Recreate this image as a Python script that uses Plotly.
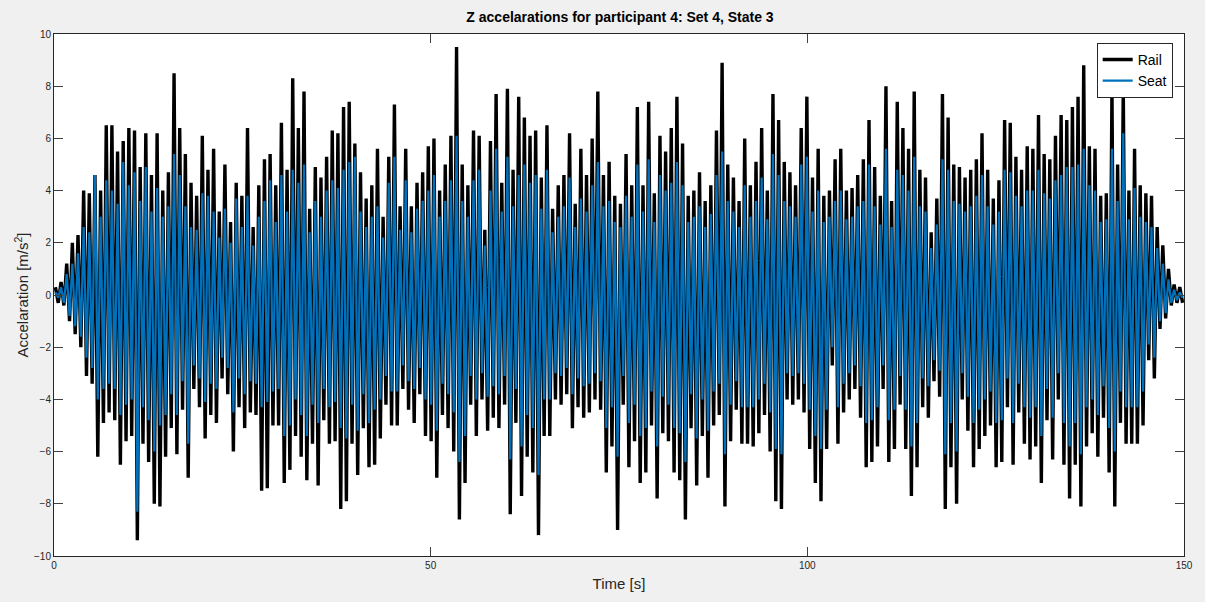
import numpy as np
import plotly.graph_objects as go

# Z-axis acceleration envelopes (m/s^2), one positive and one negative extreme
# per 0.75 s oscillation, 0-150 s
rail_peaks = [
    0.3, 0.5, 1.2, 2.0, 2.3, 4.0, 3.9, 4.6, 4.0, 6.5,
    6.5, 5.5, 5.9, 6.4, 6.3, 4.9, 6.2, 4.6, 6.2, 4.0,
    4.7, 8.5, 6.4, 5.4, 4.3, 3.8, 6.1, 4.8, 5.6, 3.2,
    5.0, 2.8, 4.3, 3.8, 6.4, 2.6, 4.2, 5.2, 5.4, 4.2,
    6.6, 4.8, 8.3, 6.4, 7.8, 3.3, 4.9, 4.5, 5.3, 6.3,
    6.2, 7.2, 7.4, 5.8, 4.7, 3.7, 4.2, 5.6, 3.0, 5.3,
    7.3, 3.4, 5.6, 3.4, 4.3, 4.7, 5.7, 6.0, 4.0, 5.0,
    6.1, 9.5, 5.0, 4.2, 6.3, 6.1, 2.5, 5.9, 7.7, 4.3,
    7.9, 4.8, 7.6, 6.8, 6.1, 6.3, 4.5, 6.5, 3.3, 4.2,
    4.6, 6.2, 3.5, 5.6, 4.6, 6.0, 7.8, 4.6, 5.1, 3.8,
    3.5, 5.4, 4.2, 7.2, 4.2, 7.4, 3.9, 6.1, 5.5, 6.4,
    7.6, 5.8, 3.8, 4.0, 4.7, 3.6, 4.2, 6.3, 8.9, 5.0,
    4.5, 3.6, 6.0, 4.2, 5.1, 6.4, 4.0, 7.7, 6.7, 5.1,
    4.7, 4.2, 6.4, 7.6, 4.5, 5.6, 3.8, 4.0, 5.2, 5.6,
    4.0, 4.1, 4.6, 5.2, 6.7, 4.9, 3.8, 8.0, 3.6, 7.4,
    6.4, 5.6, 7.8, 4.8, 4.5, 2.4, 3.7, 7.7, 6.8, 5.0,
    4.9, 4.5, 4.8, 5.2, 6.2, 4.8, 3.7, 4.4, 6.7, 6.6,
    5.3, 4.8, 5.7, 5.6, 6.9, 5.4, 5.2, 6.1, 6.9, 6.7,
    7.2, 7.6, 8.8, 5.7, 5.6, 3.8, 3.9, 7.9, 5.0, 7.9,
    4.0, 5.6, 4.2, 3.9, 3.8, 2.6, 1.9, 1.0, 0.4, 0.3,
]
rail_troughs = [
    -0.3, -0.4, -1.0, -1.5, -2.0, -3.1, -3.4, -6.2, -4.9, -4.5,
    -4.8, -6.5, -5.6, -5.4, -9.4, -5.7, -6.4, -8.0, -8.1, -6.2,
    -5.1, -6.1, -4.4, -7.0, -3.6, -4.3, -5.5, -4.6, -4.9, -3.2,
    -3.8, -6.0, -4.3, -5.1, -4.5, -4.6, -7.5, -7.4, -5.0, -5.0,
    -7.2, -6.7, -5.4, -6.2, -7.1, -5.7, -7.3, -4.8, -5.7, -5.6,
    -8.2, -7.9, -5.7, -6.9, -5.1, -6.6, -6.5, -5.5, -4.2, -5.0,
    -5.0, -3.6, -4.4, -4.9, -3.8, -5.4, -5.6, -7.0, -4.6, -5.1,
    -6.0, -8.6, -7.2, -4.2, -5.4, -4.0, -5.2, -4.7, -5.1, -4.2,
    -8.4, -4.9, -7.7, -6.2, -6.8, -9.2, -5.4, -5.4, -4.0, -4.2,
    -3.8, -5.1, -4.3, -4.7, -4.5, -4.0, -4.4, -6.8, -5.8, -9.0,
    -4.2, -6.6, -5.6, -7.2, -6.8, -5.0, -7.8, -5.3, -5.6, -6.8,
    -7.1, -8.6, -5.1, -7.3, -5.4, -7.0, -5.0, -4.6, -8.1, -5.6,
    -4.4, -5.7, -5.7, -5.8, -5.3, -4.6, -6.0, -7.9, -8.2, -4.0,
    -4.2, -4.0, -4.5, -5.9, -7.2, -7.9, -5.9, -2.7, -5.7, -4.5,
    -4.0, -3.6, -4.7, -6.6, -6.4, -5.8, -3.6, -6.4, -5.9, -4.2,
    -5.9, -7.7, -6.6, -4.3, -4.7, -3.3, -3.9, -8.2, -6.6, -8.0,
    -4.0, -5.2, -6.6, -5.9, -5.4, -5.0, -6.6, -6.4, -4.3, -6.5,
    -4.5, -5.7, -6.3, -5.8, -7.2, -4.8, -6.3, -4.0, -6.5, -7.8,
    -6.5, -8.1, -5.8, -5.3, -6.2, -4.7, -6.8, -8.1, -4.9, -5.7,
    -5.7, -5.7, -5.0, -2.5, -3.2, -1.3, -0.9, -0.4, -0.3, -0.3,
]
seat_peaks = [
    0.1, 0.3, 0.8, 1.2, 1.6, 2.6, 2.4, 4.6, 3.0, 4.4,
    4.0, 3.5, 5.1, 4.2, 4.7, 3.6, 4.9, 3.2, 4.1, 3.0,
    3.4, 5.4, 4.6, 3.4, 2.6, 2.5, 3.9, 3.8, 3.2, 2.2,
    3.3, 2.0, 3.7, 2.6, 3.8, 1.9, 3.0, 3.6, 4.4, 2.8,
    4.6, 3.2, 4.8, 4.3, 5.0, 2.4, 3.6, 3.0, 4.0, 4.4,
    4.1, 4.8, 5.1, 5.3, 3.2, 2.6, 3.0, 3.4, 2.2, 4.3,
    5.3, 2.5, 4.4, 2.4, 3.3, 3.6, 4.0, 4.6, 3.0, 3.6,
    4.4, 6.1, 3.6, 3.0, 4.4, 4.8, 1.9, 4.0, 5.6, 3.2,
    5.3, 3.4, 4.6, 5.0, 4.3, 4.6, 3.3, 4.8, 2.4, 3.0,
    3.4, 4.5, 2.6, 3.7, 3.2, 4.2, 5.1, 3.4, 3.6, 2.8,
    2.6, 3.8, 3.0, 5.0, 3.2, 5.2, 2.8, 4.6, 4.0, 4.3,
    5.1, 4.2, 2.8, 3.0, 3.4, 2.6, 3.1, 4.6, 5.5, 3.6,
    3.2, 2.6, 4.2, 3.0, 3.6, 4.5, 2.9, 5.4, 4.6, 3.6,
    3.4, 3.0, 5.0, 5.3, 3.2, 4.0, 2.8, 3.0, 3.6, 4.0,
    2.9, 3.0, 3.4, 3.6, 5.0, 3.4, 2.7, 5.6, 2.6, 4.8,
    4.6, 4.0, 5.3, 3.4, 3.2, 1.8, 2.7, 5.2, 4.8, 3.6,
    3.5, 3.2, 3.4, 3.8, 4.6, 3.4, 2.7, 3.2, 4.8, 4.7,
    3.8, 3.4, 4.0, 4.0, 4.8, 3.9, 3.7, 4.4, 4.6, 4.9,
    4.9, 5.0, 5.6, 4.2, 4.0, 2.8, 2.9, 5.6, 3.6, 6.2,
    2.9, 4.1, 3.0, 2.8, 2.6, 1.8, 1.2, 0.6, 0.2, 0.1,
]
seat_troughs = [
    -0.1, -0.3, -0.8, -1.2, -1.6, -2.4, -2.8, -4.0, -3.6, -3.4,
    -3.6, -4.6, -4.2, -4.0, -8.3, -4.3, -4.8, -6.0, -5.0, -4.6,
    -3.8, -4.6, -3.3, -5.7, -2.7, -3.2, -4.1, -3.4, -3.6, -2.4,
    -2.8, -4.5, -3.2, -3.8, -3.3, -3.4, -4.3, -4.1, -3.7, -3.6,
    -5.4, -5.0, -4.0, -4.6, -5.4, -4.2, -4.9, -3.6, -4.3, -4.1,
    -5.1, -5.5, -4.2, -5.2, -3.8, -4.9, -4.4, -4.0, -3.1, -3.7,
    -3.7, -2.7, -3.3, -3.6, -2.8, -4.0, -4.2, -5.2, -3.4, -3.8,
    -4.5, -6.4, -5.4, -3.1, -4.0, -3.0, -3.9, -3.5, -3.8, -3.1,
    -6.3, -3.6, -5.8, -4.6, -5.1, -6.9, -4.0, -4.0, -3.0, -3.1,
    -2.8, -3.8, -3.2, -3.5, -3.4, -3.0, -3.3, -5.1, -4.3, -6.2,
    -3.1, -4.9, -4.2, -5.4, -5.1, -3.7, -5.8, -3.9, -4.2, -5.1,
    -5.3, -6.4, -3.8, -5.5, -4.0, -5.2, -3.7, -3.4, -6.1, -4.2,
    -3.3, -4.3, -4.3, -4.3, -4.0, -3.4, -4.5, -5.9, -6.1, -3.0,
    -3.1, -3.0, -3.4, -4.4, -5.4, -5.9, -4.4, -2.0, -4.3, -3.4,
    -3.0, -2.7, -3.5, -4.9, -4.8, -4.3, -2.7, -4.8, -4.4, -3.1,
    -4.4, -5.8, -4.9, -3.2, -3.5, -2.5, -2.9, -6.1, -4.9, -6.0,
    -3.0, -3.9, -4.9, -4.4, -4.0, -3.7, -4.9, -4.8, -3.2, -4.9,
    -3.4, -4.3, -4.7, -4.3, -5.4, -3.6, -4.7, -3.0, -4.9, -5.8,
    -4.9, -6.1, -4.3, -4.0, -4.6, -3.5, -5.1, -6.0, -3.7, -4.3,
    -4.3, -4.3, -3.7, -1.9, -2.4, -1.0, -0.7, -0.3, -0.2, -0.1,
]

x_ticks = [0, 50, 100, 150]
y_ticks = [-10, -8, -6, -4, -2, 0, 2, 4, 6, 8, 10]

DURATION = 150.0
FONT = "Liberation Sans, Arial, sans-serif"


def interleave(hi, lo):
    sig = np.empty(len(hi) + len(lo))
    sig[0::2] = hi
    sig[1::2] = lo
    return sig


rail = interleave(rail_peaks, rail_troughs)
seat = interleave(seat_peaks, seat_troughs)
dt = DURATION / len(rail)
t = (np.arange(len(rail)) + 0.5) * dt

fig = go.Figure()
fig.add_trace(go.Scatter(
    x=t, y=rail, mode="lines", name="Rail",
    line=dict(color="#000000", width=3.4),
))
fig.add_trace(go.Scatter(
    x=t, y=seat, mode="lines", name="Seat",
    line=dict(color="#0072BD", width=2.2),
))

axis_common = dict(
    showgrid=False, zeroline=False,
    showline=True, linecolor="#262626", linewidth=1, mirror="ticks",
    ticks="inside", ticklen=9, tickcolor="#404040", tickwidth=1,
    tickfont=dict(family=FONT, size=10, color="#262626"),
)

fig.update_layout(
    width=1205, height=602,
    paper_bgcolor="#F0F0F0", plot_bgcolor="#FFFFFF",
    margin=dict(l=54, r=19, t=34, b=46),
    title=dict(
        text="<b>Z accelarations for participant 4: Set 4, State 3</b>",
        x=(54 + 1186) / 2 / 1205, xanchor="center",
        y=1 - 17 / 602, yanchor="middle",
        font=dict(family=FONT, size=14, color="#000000"),
    ),
    xaxis=dict(
        range=[0, DURATION], tickvals=x_ticks,
        title=dict(text="Time [s]", standoff=8,
                   font=dict(family=FONT, size=15, color="#262626")),
        **axis_common,
    ),
    yaxis=dict(
        range=[-10, 10], tickvals=y_ticks,
        title=dict(text="Accelaration [m/s<sup>2</sup>]", standoff=1,
                   font=dict(family=FONT, size=15, color="#262626")),
        **axis_common,
    ),
    legend=dict(
        x=0.990, xanchor="right", y=0.983, yanchor="top",
        bgcolor="#FFFFFF", bordercolor="#262626", borderwidth=1,
        font=dict(family=FONT, size=14, color="#000000"),
        itemwidth=30, tracegroupgap=0,
    ),
    showlegend=True,
)

fig.write_html("out.html")
